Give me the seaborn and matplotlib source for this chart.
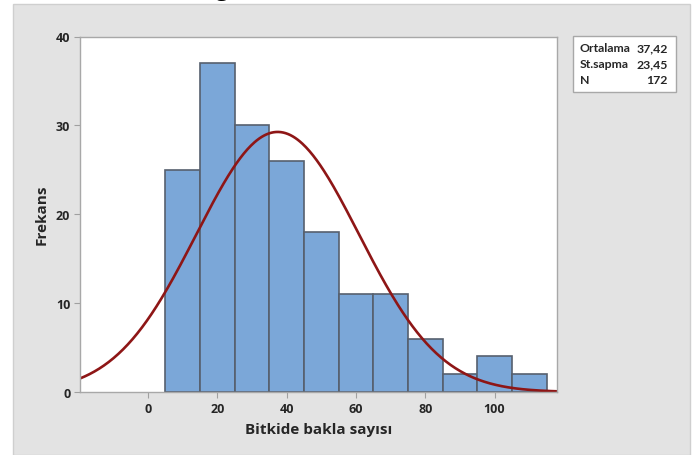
import numpy as np
import pandas as pd
import matplotlib
matplotlib.use("Agg")
import matplotlib.pyplot as plt
import seaborn as sns
from matplotlib.patches import Rectangle

# Histogram of pod counts per plant
bin_edges = [5, 15, 25, 35, 45, 55, 65, 75, 85, 95, 105, 115]
counts = [25, 37, 30, 26, 18, 11, 11, 6, 2, 4, 2]
mean_val = 37.42
sd_val = 23.45
n_obs = 172
x_ticks = [0, 20, 40, 60, 80, 100]
y_ticks = [0, 10, 20, 30, 40]
stat_labels = ["Ortalama", "St.sapma", "N"]
stat_values = ["37,42", "23,45", "172"]

sns.set_theme(style="white")
plt.rcParams["font.family"] = ["Open Sans", "DejaVu Sans"]

W, H = 699, 456
fig = plt.figure(figsize=(W / 100, H / 100), dpi=100)
fig.patch.set_facecolor("white")

# grey chart panel, behind the axes
fig.patches.append(Rectangle((13 / W, 0), (690 - 13) / W, 1 - 5 / H,
                             transform=fig.transFigure, facecolor="#e3e3e3",
                             edgecolor="#cfcfcf", linewidth=1.0, zorder=-5))
# clipped descender of a heading above the panel
fig.text(215 / W, 1 + 5 / H, "g", fontsize=20, family="Liberation Serif",
         va="baseline", ha="left", color="black")

ax = fig.add_axes([80 / W, 1 - 393 / H, (557 - 80) / W, (393 - 37.5) / H])
ax.set_zorder(1)
ax.set_facecolor("white")

centers = [(a + b) / 2 for a, b in zip(bin_edges[:-1], bin_edges[1:])]
df = pd.DataFrame({"x": centers, "w": counts})
sns.histplot(data=df, x="x", weights="w", bins=bin_edges, ax=ax,
             color="#7ba7d8", alpha=1.0, edgecolor="#56606e", linewidth=1.2)

xlim = (-19.6, 118.0)
xs = np.linspace(xlim[0], xlim[1], 400)
scale = n_obs * (bin_edges[1] - bin_edges[0])
ys = scale / (sd_val * np.sqrt(2 * np.pi)) * np.exp(-0.5 * ((xs - mean_val) / sd_val) ** 2)
sns.lineplot(x=xs, y=ys, ax=ax, color="#8e1616", linewidth=1.9)

ax.set_xlim(*xlim)
ax.set_ylim(0, 40)
ax.set_xticks(x_ticks)
ax.set_yticks(y_ticks)
ax.tick_params(axis="both", which="both", direction="out", length=4, width=0.8,
               color="#a0a0a0", labelsize=9, pad=3, bottom=True, left=True)
for lab in ax.get_xticklabels() + ax.get_yticklabels():
    lab.set_fontweight("bold")
ax.set_xlabel("Bitkide bakla sayısı", fontsize=11, fontweight="bold", labelpad=5)
ax.set_ylabel("Frekans", fontsize=11, fontweight="bold", labelpad=5)
for sp in ax.spines.values():
    sp.set_color("#a8a8a8")
    sp.set_linewidth(1.0)

# summary box
bx0, by0, bx1, by1 = 573, 37, 676, 93
fig.patches.append(Rectangle((bx0 / W, 1 - by1 / H), (bx1 - bx0) / W, (by1 - by0) / H,
                             transform=fig.transFigure, facecolor="white",
                             edgecolor="#a8a8a8", linewidth=1.0, zorder=2))
for i, (lab, val) in enumerate(zip(stat_labels, stat_values)):
    yy = 1 - (48.5 + i * 16) / H
    fig.text(580 / W, yy, lab, fontsize=8.8, fontweight="bold", family="Lato",
             va="center", ha="left", zorder=3)
    fig.text(668 / W, yy, val, fontsize=8.8, fontweight="bold", family="Lato",
             va="center", ha="right", zorder=3)

fig.savefig("out.png", dpi=100)
